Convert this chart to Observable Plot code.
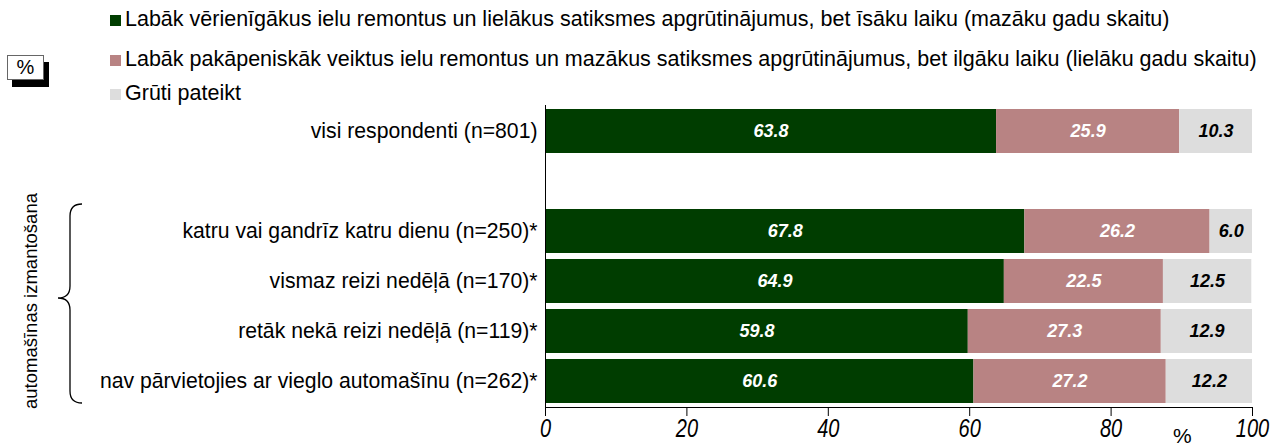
<!DOCTYPE html>
<html>
<head>
<meta charset="utf-8">
<script src="https://cdn.jsdelivr.net/npm/d3@7"></script>
<script src="https://cdn.jsdelivr.net/npm/@observablehq/plot@0.6"></script>
<style>
  html, body { margin: 0; padding: 0; background: #fff; }
  #wrap { position: relative; width: 1283px; height: 448px; font-family: "Liberation Sans", Arial, sans-serif; color: #000; overflow: hidden; }
  #chart { position: absolute; left: 0; top: 0; }
  .leg { position: absolute; left: 110px; font-size: 21.5px; white-space: nowrap; line-height: 20px; }
  .leg span.sw { display: inline-block; width: 11px; height: 11px; margin-right: 4px; vertical-align: 0px; }
  #pct { position: absolute; left: 7px; top: 55px; width: 35px; height: 23px; border: 1px solid #666; background: #fff; box-shadow: 5px 7px 0 #000; font-size: 20px; text-align: center; line-height: 23px; }
  #unit { position: absolute; left: 1173px; top: 424px; font-size: 21px; }
  #deco { position: absolute; left: 0; top: 0; }
</style>
</head>
<body>
<div id="wrap"></div>
<script>
const categories = [
  "visi respondenti (n=801)",
  "katru vai gandrīz katru dienu (n=250)*",
  "vismaz reizi nedēļā (n=170)*",
  "retāk nekā reizi nedēļā (n=119)*",
  "nav pārvietojies ar vieglo automašīnu (n=262)*"
];
const seriesNames = [
  "Labāk vērienīgākus ielu remontus un lielākus satiksmes apgrūtinājumus, bet īsāku laiku (mazāku gadu skaitu)",
  "Labāk pakāpeniskāk veiktus ielu remontus un mazākus satiksmes apgrūtinājumus, bet ilgāku laiku (lielāku gadu skaitu)",
  "Grūti pateikt"
];
const values1 = [63.8, 67.8, 64.9, 59.8, 60.6];
const values2 = [25.9, 26.2, 22.5, 27.3, 27.2];
const values3 = [10.3, 6.0, 12.5, 12.9, 12.2];
const xTicks = [0, 20, 40, 60, 80, 100];
const groupLabel = "automašīnas izmantošana";
const unitLabel = "%";

const colors = ["#003d00", "#b88383", "#dddddd"];
const labelColors = ["#ffffff", "#ffffff", "#000000"];

const gap = "";
const yDomain = [categories[0], gap, ...categories.slice(1)];

const seriesValues = [values1, values2, values3];
const data = [];
categories.forEach((c, i) => {
  seriesValues.forEach((vals, s) => {
    data.push({cat: c, series: s, value: vals[i]});
  });
});

const FONT = "'Liberation Sans', Arial, sans-serif";

const plot = Plot.plot({
  width: 1283,
  height: 448,
  marginLeft: 545,
  marginRight: 31,
  marginTop: 105,
  marginBottom: 41,
  style: {color: "#000", background: "transparent", fontFamily: FONT},
  x: {domain: [0, 100]},
  y: {domain: yDomain, paddingInner: 0.13, paddingOuter: 0.04},
  marks: [
    Plot.barX(data, Plot.stackX({
      x: "value", y: "cat", z: "series", order: null,
      fill: d => colors[d.series]
    })),
    Plot.text(data, Plot.stackX({
      x: "value", y: "cat", z: "series", order: null,
      text: d => d.value.toFixed(1),
      fill: d => labelColors[d.series],
      fontSize: 18, fontWeight: "bold", fontStyle: "italic",
      fontFamily: FONT
    })),
    Plot.axisX({ticks: xTicks, tickSize: 9, tickPadding: 3, fontSize: 25, fontStyle: "italic", label: null, stroke: "#000"}),
    Plot.axisY({tickSize: 0, tickPadding: 8, fontSize: 21.2, label: null, tickFormat: d => d}),
    Plot.frame({anchor: "bottom", stroke: "#000"}),
    Plot.frame({anchor: "left", stroke: "#000"})
  ]
});
plot.id = "chart";
const wrap = document.getElementById("wrap");
wrap.appendChild(plot);

// condense the x tick labels horizontally (narrow italic look)
plot.querySelectorAll('g[aria-label="x-axis tick label"] text').forEach(el => {
  const tr = el.getAttribute("transform") || "";
  el.setAttribute("transform", tr + " scale(0.8,1)");
});

// legend
const legTops = [9, 49, 83];
seriesNames.forEach((n, i) => {
  const d = document.createElement("div");
  d.className = "leg";
  d.style.top = legTops[i] + "px";
  const sw = document.createElement("span");
  sw.className = "sw";
  sw.style.background = colors[i];
  d.appendChild(sw);
  d.appendChild(document.createTextNode(n));
  wrap.appendChild(d);
});

const pct = document.createElement("div");
pct.id = "pct"; pct.textContent = unitLabel;
wrap.appendChild(pct);

const unit = document.createElement("div");
unit.id = "unit"; unit.textContent = unitLabel;
wrap.appendChild(unit);

// brace and group label
const ns = "http://www.w3.org/2000/svg";
const deco = document.createElementNS(ns, "svg");
deco.setAttribute("id", "deco");
deco.setAttribute("width", 120);
deco.setAttribute("height", 448);
const path = document.createElementNS(ns, "path");
path.setAttribute("d", "M82,204 Q70,204 70,216 L70,286 Q70,298 58,298 Q70,298 70,310 L70,391 Q70,403 82,403");
path.setAttribute("fill", "none");
path.setAttribute("stroke", "#000");
path.setAttribute("stroke-width", "1.3");
deco.appendChild(path);
const t = document.createElementNS(ns, "text");
t.setAttribute("transform", "translate(37,301) rotate(-90)");
t.setAttribute("text-anchor", "middle");
t.setAttribute("font-size", "18.5");
t.setAttribute("font-family", FONT);
t.textContent = groupLabel;
deco.appendChild(t);
wrap.appendChild(deco);
</script>
</body>
</html>
